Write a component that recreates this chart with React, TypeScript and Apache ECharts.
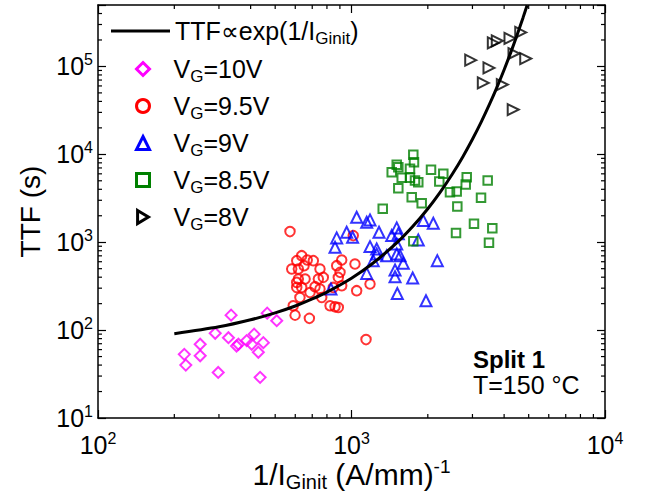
import React, { useEffect, useRef } from 'react';
import * as echarts from 'echarts';

const FONT = '"Liberation Sans", Arial, Helvetica, sans-serif';

// Axis ranges
const X_MIN = 100;
const X_MAX = 10000;
const Y_MIN = 10;
const Y_MAX = 500000;

// Minor tick values
const xMinor = [200, 300, 400, 500, 600, 700, 800, 900, 2000, 3000, 4000, 5000, 6000, 7000, 8000, 9000];
const yMinor = [
  20, 30, 40, 50, 60, 70, 80, 90,
  200, 300, 400, 500, 600, 700, 800, 900,
  2000, 3000, 4000, 5000, 6000, 7000, 8000, 9000,
  20000, 30000, 40000, 50000, 60000, 70000, 80000, 90000,
  200000, 300000, 400000,
];

// Fit curve TTF ∝ exp(1/IGinit)
const fitX = [200, 300, 400, 500, 600, 700, 800, 1000, 1200, 1500, 1750, 2000, 2250, 2500, 2750, 3000, 3250, 3500, 3750, 4000, 4250, 4500, 4750, 4930];
const fitY = [91, 109, 131, 157, 188, 226, 271, 390, 561, 969, 1530, 2405, 3790, 5976, 9410, 14850, 23400, 36900, 58100, 91700, 144500, 228000, 359000, 497000];

// VG = 10 V (magenta diamonds)
const vg10X = [335, 290, 327, 253, 219, 253, 222, 298, 358, 386, 413, 404, 449, 429, 436, 465, 507, 352];
const vg10Y = [148, 92, 82, 69, 53, 51, 40, 33, 69, 76, 90, 69, 72, 56, 29, 156, 128, 66];

// VG = 9.5 V (red circles)
const vg95X = [572, 636, 608, 669, 707, 581, 617, 650, 751, 617, 608, 656, 740, 774, 608, 636, 718, 751, 763, 686, 626, 589, 599, 682, 823, 861, 887, 874, 915, 1032, 887, 915, 1048, 1183, 1016, 1141, 848, 901];
const vg95Y = [1321, 703, 617, 628, 617, 496, 496, 541, 496, 381, 349, 381, 381, 398, 306, 306, 312, 293, 235, 268, 235, 189, 148, 136, 189, 184, 181, 541, 628, 566, 398, 320, 281, 335, 1189, 78, 306, 454];

// VG = 9 V (blue triangles)
const vg9X = [1048, 1148, 1183, 957, 874, 1010, 861, 1284, 1508, 1530, 1441, 1920, 2102, 1834, 1183, 1257, 1257, 1377, 1508, 1554, 1218, 1601, 1485, 1485, 1148, 1743, 2180, 1516, 1967, 830, 1508];
const vg9Y = [1923, 1687, 1795, 1297, 1119, 1137, 875, 1297, 1456, 1245, 1189, 1762, 1641, 1062, 891, 839, 735, 703, 735, 703, 617, 575, 483, 405, 442, 392, 617, 261, 216, 293, 956];

// VG = 8.5 V (green squares)
const vg85X = [1753, 1764, 1508, 1530, 1441, 1701, 1578, 1701, 1780, 1834, 1530, 2059, 2302, 2220, 2848, 2822, 3445, 2446, 2600, 1728, 1892, 1328, 2615, 3243, 3042, 2584, 3593, 3486, 1753];
const vg85Y = [9895, 8147, 7609, 7145, 6266, 6853, 5409, 5409, 5040, 4819, 4118, 6674, 6010, 4910, 5495, 4538, 5040, 3707, 3776, 3251, 2777, 2397, 2547, 3199, 1617, 1276, 1440, 989, 1024];

// VG = 8 V (black right-pointing triangles)
const vg8X = [3626, 3759, 4219, 4651, 4375, 4867, 2953, 3486, 3311, 3935, 4344];
const vg8Y = [185300, 195400, 208000, 243500, 140300, 123000, 117800, 96200, 64900, 62200, 32260];

const zip = (xs: number[], ys: number[]) => xs.map((x, i) => [x, ys[i]]);

const legendLabels: Record<string, string> = {
  fit: 'TTF∝exp(1/I{sub|Ginit})',
  vg10: '{pad| }V{sub|G}=10V',
  vg95: '{pad| }V{sub|G}=9.5V',
  vg9: '{pad| }V{sub|G}=9V',
  vg85: '{pad| }V{sub|G}=8.5V',
  vg8: '{pad| }V{sub|G}=8V',
};

const powLabel = (v: number) => {
  const l = Math.log10(v);
  const e = Math.round(l);
  if (Math.abs(l - e) > 1e-6) return '';
  return `{b|10}{s|${e}}`;
};

const labelRich = {
  b: { fontSize: 25, fontFamily: FONT, color: '#000', lineHeight: 30 },
  s: { fontSize: 16, fontFamily: FONT, color: '#000', verticalAlign: 'top', lineHeight: 16 },
};

const legendText = {
  fontSize: 25, fontFamily: FONT, color: '#000', lineHeight: 32,
  rich: {
    sub: { fontSize: 17, fontFamily: FONT, color: '#000', verticalAlign: 'bottom', lineHeight: 17 },
    pad: { width: 19, fontSize: 10 },
  },
};

function scatter(name: string, xs: number[], ys: number[], color: string, symbol: string, size: number, rotate = 0) {
  return {
    name,
    type: 'scatter',
    data: zip(xs, ys),
    symbol,
    symbolSize: size,
    symbolRotate: rotate,
    itemStyle: { color: 'rgba(0,0,0,0)', borderColor: color, borderWidth: 2 },
    z: 3,
  };
}

const legendItem = (name: string, color: string, icon?: string) => ({
  name,
  ...(icon ? { icon } : {}),
  itemStyle: { color: 'rgba(0,0,0,0)', borderColor: color, borderWidth: 3, opacity: 1 },
});

export default function App() {
  const ref = useRef<HTMLDivElement>(null);
  useEffect(() => {
    if (!ref.current) return;
    const chart = echarts.init(ref.current, undefined, { renderer: 'svg' });
    const axisLine = { show: true, onZero: false, lineStyle: { color: '#000', width: 1.5 } };
    const axisTick = { show: true, inside: true, length: 8, lineStyle: { color: '#000', width: 1.2 } };
    const option: any = {
      animation: false,
      backgroundColor: '#fff',
      grid: { left: 98, right: 42, top: 5, bottom: 79, containLabel: false, outerBoundsMode: 'none' },
      xAxis: [
        {
          type: 'log', logBase: 10, min: X_MIN, max: X_MAX, position: 'bottom',
          axisLine, axisTick, splitLine: { show: false },
          axisLabel: { formatter: powLabel, rich: labelRich, margin: 12 },
          name: '1/I{sub|Ginit} (A/mm){sup|-1}',
          nameLocation: 'middle', nameGap: 39, nameMoveOverlap: false,
          nameTextStyle: {
            fontSize: 30, fontFamily: FONT, color: '#000', lineHeight: 35,
            rich: {
              sub: { fontSize: 20, fontFamily: FONT, color: '#000', verticalAlign: 'bottom', lineHeight: 20 },
              sup: { fontSize: 19, fontFamily: FONT, color: '#000', verticalAlign: 'top', lineHeight: 19 },
            },
          },
        },
        {
          type: 'log', logBase: 10, min: X_MIN, max: X_MAX, position: 'top',
          axisLine, axisTick, splitLine: { show: false }, axisLabel: { show: false },
        },
      ],
      yAxis: [
        {
          type: 'log', logBase: 10, min: Y_MIN, max: Y_MAX, position: 'left',
          axisLine, axisTick, splitLine: { show: false },
          axisLabel: { formatter: powLabel, rich: labelRich, margin: 5 },
          name: 'TTF (s)', nameLocation: 'middle', nameGap: 54,
          nameTextStyle: { fontSize: 28, fontFamily: FONT, color: '#000' },
        },
        {
          type: 'log', logBase: 10, min: Y_MIN, max: Y_MAX, position: 'right',
          axisLine, axisTick, splitLine: { show: false }, axisLabel: { show: false },
        },
      ],
      legend: [
        {
          orient: 'vertical', left: 106, top: 10,
          itemWidth: 59, itemHeight: 3,
          data: [{ name: 'fit', icon: 'rect', itemStyle: { color: '#000', borderWidth: 0 } }],
          formatter: (n: string) => legendLabels[n] || n,
          selectedMode: false,
          textStyle: legendText,
        },
        {
          orient: 'vertical', left: 130, top: 48,
          itemWidth: 13, itemHeight: 13, itemGap: 5,
          data: [
            legendItem('vg10', '#ff00ff'),
            legendItem('vg95', '#ff0000'),
            legendItem('vg9', '#0000ff'),
            legendItem('vg85', '#008000'),
            legendItem('vg8', '#000000', 'path://M1,0L11,6L1,12Z'),
          ],
          formatter: (n: string) => legendLabels[n] || n,
          selectedMode: false,
          textStyle: legendText,
        },
      ],
      series: [
        {
          name: 'fit', type: 'line', data: zip(fitX, fitY), showSymbol: false, symbol: 'none',
          smooth: 0.3, lineStyle: { color: '#000', width: 3 }, itemStyle: { color: '#000' }, z: 4,
        },
        scatter('vg10', vg10X, vg10Y, '#ff00ff', 'diamond', 11),
        scatter('vg95', vg95X, vg95Y, '#ff0000', 'circle', 9.5),
        scatter('vg9', vg9X, vg9Y, '#0000ff', 'triangle', 11),
        scatter('vg85', vg85X, vg85Y, '#008000', 'rect', 8.5),
        scatter('vg8', vg8X, vg8Y, '#000000', 'triangle', 11, -90),
        {
          type: 'custom', silent: true, z: 5,
          data: xMinor.map((v) => [v, Y_MIN]),
          renderItem: (_p: any, api: any) => {
            const v = api.value(0);
            const b = api.coord([v, Y_MIN]);
            const t = api.coord([v, Y_MAX]);
            const st = { stroke: '#000', lineWidth: 1.2 };
            return {
              type: 'group',
              children: [
                { type: 'line', shape: { x1: b[0], y1: b[1], x2: b[0], y2: b[1] - 4 }, style: st },
                { type: 'line', shape: { x1: t[0], y1: t[1], x2: t[0], y2: t[1] + 4 }, style: st },
              ],
            };
          },
        },
        {
          type: 'custom', silent: true, z: 5,
          data: yMinor.map((v) => [X_MIN, v]),
          renderItem: (_p: any, api: any) => {
            const v = api.value(1);
            const l = api.coord([X_MIN, v]);
            const r = api.coord([X_MAX, v]);
            const st = { stroke: '#000', lineWidth: 1.2 };
            return {
              type: 'group',
              children: [
                { type: 'line', shape: { x1: l[0], y1: l[1], x2: l[0] + 4, y2: l[1] }, style: st },
                { type: 'line', shape: { x1: r[0], y1: r[1], x2: r[0] - 4, y2: r[1] }, style: st },
              ],
            };
          },
        },
      ],
      graphic: [
        { type: 'text', left: 473, top: 347, style: { text: 'Split 1', font: `bold 24px ${FONT}`, fill: '#000' } },
        { type: 'text', left: 473, top: 372, style: { text: 'T=150 °C', font: `25px ${FONT}`, fill: '#000' } },
      ],
    };
    chart.setOption(option);
    return () => chart.dispose();
  }, []);
  return <div ref={ref} style={{ position: 'fixed', left: 0, top: 0, width: 647, height: 497 }} />;
}
